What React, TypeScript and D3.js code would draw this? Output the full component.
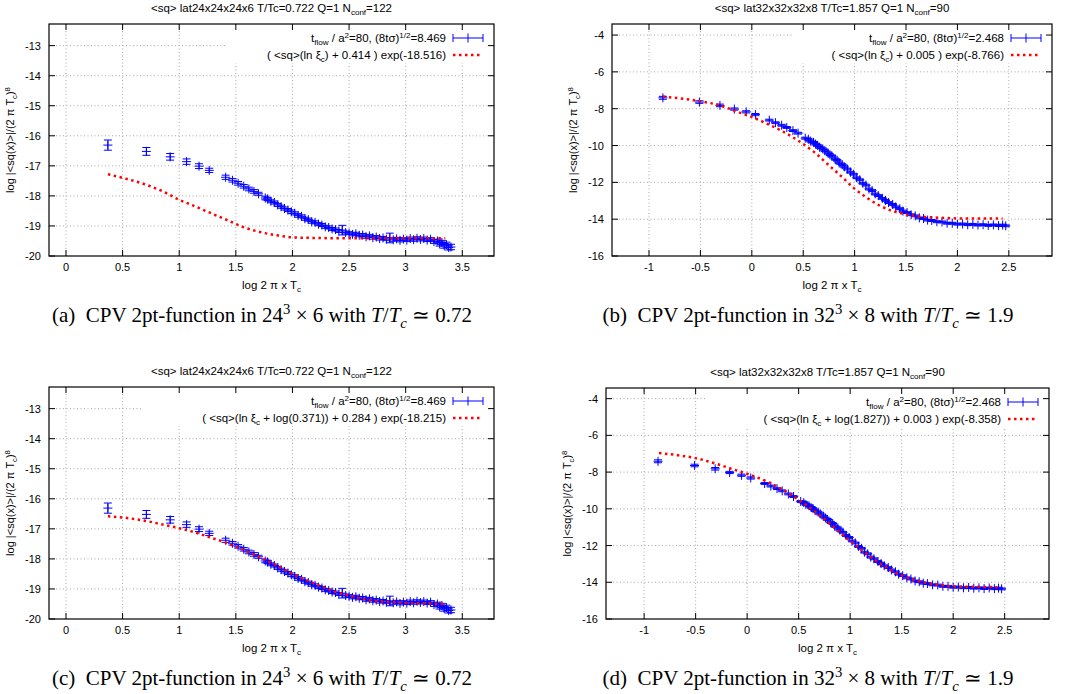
import React, { useRef, useEffect } from "react"
import * as d3 from "d3"

// ---- 24^3 x 6 lattice, T/Tc = 0.722 (panels a and c)
const lowX = [0.37, 0.71, 0.92, 1.065, 1.175, 1.265, 1.41, 1.47, 1.52, 1.57, 1.615, 1.66, 1.70, 1.76, 1.78, 1.81, 1.84, 1.87, 1.90, 1.93, 1.96, 1.99, 2.02, 2.05, 2.08, 2.11, 2.14, 2.17, 2.20, 2.23, 2.26, 2.29, 2.32, 2.35, 2.38, 2.41, 2.44, 2.47, 2.50, 2.53, 2.56, 2.59, 2.62, 2.65, 2.68, 2.71, 2.74, 2.77, 2.80, 2.83, 2.86, 2.89, 2.92, 2.95, 2.98, 3.01, 3.04, 3.07, 3.10, 3.13, 3.16, 3.19, 3.22, 3.25, 3.28, 3.30, 3.32, 3.34, 3.36, 3.38, 3.40]
const lowY = [-16.31, -16.52, -16.70, -16.86, -17.01, -17.15, -17.38, -17.48, -17.58, -17.68, -17.77, -17.85, -17.93, -18.07, -18.10, -18.18, -18.22, -18.30, -18.36, -18.42, -18.47, -18.53, -18.58, -18.65, -18.68, -18.76, -18.79, -18.86, -18.88, -18.94, -18.97, -19.03, -19.05, -19.10, -19.12, -19.17, -19.14, -19.22, -19.24, -19.28, -19.26, -19.31, -19.30, -19.36, -19.33, -19.39, -19.37, -19.42, -19.40, -19.44, -19.40, -19.46, -19.43, -19.48, -19.44, -19.47, -19.42, -19.46, -19.41, -19.45, -19.42, -19.47, -19.44, -19.52, -19.50, -19.60, -19.55, -19.66, -19.62, -19.72, -19.70]
const lowErr = [0.17, 0.13, 0.11, 0.09, 0.08, 0.07, 0.07, 0.06, 0.06, 0.06, 0.06, 0.06, 0.05, 0.06, 0.05, 0.05, 0.05, 0.05, 0.05, 0.05, 0.05, 0.06, 0.05, 0.06, 0.05, 0.05, 0.05, 0.05, 0.05, 0.05, 0.05, 0.05, 0.05, 0.05, 0.05, 0.05, 0.16, 0.05, 0.05, 0.05, 0.05, 0.05, 0.05, 0.05, 0.05, 0.05, 0.05, 0.05, 0.05, 0.05, 0.16, 0.05, 0.05, 0.05, 0.05, 0.05, 0.05, 0.05, 0.05, 0.05, 0.05, 0.05, 0.05, 0.06, 0.06, 0.07, 0.07, 0.08, 0.08, 0.08, 0.09]
const fitAX = [0.37, 0.54, 0.71, 0.86, 1.0, 1.13, 1.27, 1.42, 1.56, 1.71, 1.86, 2.0, 2.2, 2.5, 2.8, 3.1, 3.35]
const fitAY = [-17.28, -17.44, -17.63, -17.86, -18.13, -18.33, -18.56, -18.8, -19.03, -19.2, -19.31, -19.38, -19.4, -19.41, -19.41, -19.41, -19.41]
const fitCX = [0.37, 0.54, 0.71, 0.86, 1.0, 1.13, 1.27, 1.42, 1.56, 1.71, 1.86, 2.0, 2.2, 2.35, 2.5, 2.67, 2.88, 3.08, 3.35]
const fitCY = [-16.58, -16.64, -16.74, -16.86, -16.98, -17.11, -17.28, -17.47, -17.69, -17.94, -18.22, -18.5, -18.83, -19.06, -19.22, -19.37, -19.44, -19.47, -19.5]

// ---- 32^3 x 8 lattice, T/Tc = 1.857 (panels b and d)
const highX = [-0.865, -0.51, -0.31, -0.17, -0.055, 0.035, 0.17, 0.23, 0.29, 0.34, 0.40, 0.45, 0.52, 0.55, 0.57, 0.60, 0.62, 0.64, 0.66, 0.69, 0.71, 0.74, 0.76, 0.78, 0.81, 0.83, 0.85, 0.88, 0.90, 0.93, 0.96, 0.99, 1.02, 1.05, 1.08, 1.11, 1.14, 1.17, 1.20, 1.23, 1.27, 1.30, 1.33, 1.37, 1.40, 1.44, 1.47, 1.51, 1.55, 1.59, 1.63, 1.67, 1.71, 1.75, 1.80, 1.85, 1.90, 1.95, 2.00, 2.05, 2.10, 2.15, 2.20, 2.25, 2.30, 2.35, 2.40, 2.44, 2.47]
const highY = [-7.41, -7.64, -7.82, -8.02, -8.17, -8.32, -8.62, -8.76, -8.90, -9.02, -9.19, -9.33, -9.60, -9.66, -9.76, -9.83, -9.92, -9.99, -10.10, -10.18, -10.28, -10.40, -10.50, -10.58, -10.73, -10.80, -10.95, -11.04, -11.16, -11.28, -11.45, -11.56, -11.75, -11.86, -12.05, -12.15, -12.36, -12.45, -12.63, -12.72, -12.87, -12.98, -13.10, -13.20, -13.33, -13.43, -13.56, -13.64, -13.76, -13.82, -13.93, -13.97, -14.05, -14.07, -14.14, -14.15, -14.22, -14.22, -14.27, -14.26, -14.30, -14.28, -14.32, -14.30, -14.34, -14.31, -14.35, -14.32, -14.36]
const highErr = [0.08, 0.07, 0.07, 0.06, 0.06, 0.06, 0.05, 0.05, 0.05, 0.05, 0.05, 0.05, 0.05, 0.05, 0.05, 0.05, 0.05, 0.05, 0.05, 0.05, 0.05, 0.05, 0.05, 0.05, 0.05, 0.05, 0.05, 0.05, 0.05, 0.05, 0.05, 0.05, 0.05, 0.05, 0.05, 0.05, 0.05, 0.05, 0.05, 0.05, 0.05, 0.05, 0.05, 0.05, 0.05, 0.05, 0.05, 0.05, 0.05, 0.05, 0.05, 0.05, 0.05, 0.05, 0.05, 0.05, 0.05, 0.05, 0.05, 0.05, 0.05, 0.05, 0.05, 0.05, 0.05, 0.05, 0.05, 0.05, 0.05]
const fitBX = [-0.865, -0.51, -0.31, -0.135, 0, 0.18, 0.335, 0.49, 0.62, 0.745, 0.87, 0.99, 1.12, 1.24, 1.37, 1.5, 1.68, 1.87, 2.06, 2.25, 2.44]
const fitBY = [-7.34, -7.59, -7.82, -8.18, -8.45, -8.9, -9.34, -9.88, -10.42, -11.05, -11.67, -12.3, -12.84, -13.25, -13.56, -13.73, -13.88, -13.93, -13.97, -13.97, -13.97]
const fitDX = [-0.856, -0.66, -0.5, -0.3, -0.125, 0.03, 0.19, 0.345, 0.5, 0.66, 0.815, 0.97, 1.13, 1.285, 1.44, 1.6, 1.755, 1.91, 2.07, 2.23, 2.43]
const fitDY = [-6.96, -7.09, -7.24, -7.55, -7.87, -8.15, -8.51, -8.96, -9.51, -10.15, -10.87, -11.6, -12.33, -12.96, -13.47, -13.84, -14.05, -14.18, -14.24, -14.25, -14.27]

const lowXTicks = [0, 0.5, 1, 1.5, 2, 2.5, 3, 3.5]
const lowYTicks = [-20, -19, -18, -17, -16, -15, -14, -13]
const highXTicks = [-1, -0.5, 0, 0.5, 1, 1.5, 2, 2.5]
const highYTicks = [-16, -14, -12, -10, -8, -6, -4]

type Seg = { t: string; sub?: boolean; sup?: boolean; it?: boolean }

const titleLow: Seg[] = [{ t: "<sq> lat24x24x24x6 T/Tc=0.722 Q=1 N" }, { t: "conf", sub: true }, { t: "=122" }]
const titleHigh: Seg[] = [{ t: "<sq> lat32x32x32x8 T/Tc=1.857 Q=1 N" }, { t: "conf", sub: true }, { t: "=90" }]
const dataLow: Seg[] = [{ t: "t" }, { t: "flow", sub: true }, { t: " / a" }, { t: "2", sup: true }, { t: "=80, (8tσ)" }, { t: "1/2", sup: true }, { t: "=8.469" }]
const dataHigh: Seg[] = [{ t: "t" }, { t: "flow", sub: true }, { t: " / a" }, { t: "2", sup: true }, { t: "=80, (8tσ)" }, { t: "1/2", sup: true }, { t: "=2.468" }]
const fitLabelA: Seg[] = [{ t: "( <sq>(ln ξ" }, { t: "c", sub: true }, { t: ") + 0.414 ) exp(-18.516)" }]
const fitLabelB: Seg[] = [{ t: "( <sq>(ln ξ" }, { t: "c", sub: true }, { t: ") + 0.005 ) exp(-8.766)" }]
const fitLabelC: Seg[] = [{ t: "( <sq>(ln ξ" }, { t: "c", sub: true }, { t: " + log(0.371)) + 0.284 ) exp(-18.215)" }]
const fitLabelD: Seg[] = [{ t: "( <sq>(ln ξ" }, { t: "c", sub: true }, { t: " + log(1.827)) + 0.003 ) exp(-8.358)" }]
const yLabel: Seg[] = [{ t: "log |<sq(x)>|/(2 π T" }, { t: "c", sub: true }, { t: ")" }, { t: "8", sup: true }]
const xLabel: Seg[] = [{ t: "log 2 π x T" }, { t: "c", sub: true }]
const capLow = (l: string): Seg[] => [{ t: `(${l})\u2002CPV 2pt-function in 24` }, { t: "3", sup: true }, { t: " × 6 with " }, { t: "T", it: true }, { t: "/" }, { t: "T", it: true }, { t: "c", sub: true, it: true }, { t: " ≃ 0.72" }]
const capHigh = (l: string): Seg[] => [{ t: `(${l})\u2002CPV 2pt-function in 32` }, { t: "3", sup: true }, { t: " × 8 with " }, { t: "T", it: true }, { t: "/" }, { t: "T", it: true }, { t: "c", sub: true, it: true }, { t: " ≃ 1.9" }]

const SANS = "'Liberation Sans', Arial, sans-serif"
const SERIF = "'Liberation Serif', 'Times New Roman', serif"

function rich(text: any, segs: Seg[], size: number) {
  let shift = 0
  segs.forEach(s => {
    const target = s.sub ? size * 0.3 : s.sup ? -size * 0.38 : 0
    const ts = text.append("tspan").attr("dy", target - shift).text(s.t)
    if (s.sub || s.sup) ts.attr("font-size", size * 0.7)
    if (s.it) ts.attr("font-style", "italic")
    shift = target
  })
}

const panels = [
  { left: 49, right: 494, top: 24, bottom: 256, xd: [-0.15, 3.78], yd: [-20, -12.28], xt: lowXTicks, yt: lowYTicks, title: titleLow, dl: dataLow, fl: fitLabelA, px: lowX, py: lowY, pe: lowErr, fx: fitAX, fy: fitAY, keyLeft: 227, cap: capLow("a"), capX: 262, capY: 322 },
  { left: 612, right: 1052, top: 24, bottom: 256, xd: [-1.36, 2.92], yd: [-16, -3.4], xt: highXTicks, yt: highYTicks, title: titleHigh, dl: dataHigh, fl: fitLabelB, px: highX, py: highY, pe: highErr, fx: fitBX, fy: fitBY, keyLeft: 793, cap: capHigh("b"), capX: 808, capY: 322 },
  { left: 49, right: 494, top: 387, bottom: 619, xd: [-0.15, 3.78], yd: [-20, -12.28], xt: lowXTicks, yt: lowYTicks, title: titleLow, dl: dataLow, fl: fitLabelC, px: lowX, py: lowY, pe: lowErr, fx: fitCX, fy: fitCY, keyLeft: 143, cap: capLow("c"), capX: 262, capY: 685 },
  { left: 606, right: 1049, top: 388, bottom: 619, xd: [-1.37, 2.93], yd: [-16, -3.42], xt: highXTicks, yt: highYTicks, title: titleHigh, dl: dataHigh, fl: fitLabelD, px: highX, py: highY, pe: highErr, fx: fitDX, fy: fitDY, keyLeft: 707, cap: capHigh("d"), capX: 808, capY: 685 },
]

function drawPanel(root: any, p: any) {
  const g = root.append("g")
  const x = d3.scaleLinear().domain(p.xd).range([p.left, p.right])
  const y = d3.scaleLinear().domain(p.yd).range([p.bottom, p.top])

  // dotted grid
  const grid = g.append("g").attr("stroke", "#a8a8a8").attr("stroke-width", 1).attr("stroke-dasharray", "1,2.5")
  grid.selectAll("line.v").data(p.xt).join("line")
    .attr("x1", (d: number) => x(d)).attr("x2", (d: number) => x(d))
    .attr("y1", p.bottom).attr("y2", p.top)
  grid.selectAll("line.h").data(p.yt.filter((d: number) => y(d) < p.bottom - 1)).join("line")
    .attr("y1", (d: number) => y(d)).attr("y2", (d: number) => y(d))
    .attr("x1", p.left).attr("x2", p.right)

  // key background hides the grid
  g.append("rect").attr("x", p.keyLeft).attr("y", p.top + 1)
    .attr("width", p.right - 1 - p.keyLeft).attr("height", 38).attr("fill", "white")

  // data with error bars
  const pts = p.px.map((v: number, i: number) => ({ x: v, y: p.py[i], e: p.pe[i] }))
  const blue = g.append("g").attr("stroke", "#0000ff").attr("stroke-width", 1).attr("fill", "none")
  const pg = blue.selectAll("g").data(pts).join("g")
  pg.append("path").attr("d", (d: any) => {
    const cx = x(d.x), cy = y(d.y), y1 = y(d.y - d.e), y2 = y(d.y + d.e)
    return `M${cx},${y1}V${y2}M${cx - 4},${y1}H${cx + 4}M${cx - 4},${y2}H${cx + 4}M${cx - 4.5},${cy}H${cx + 4.5}M${cx},${cy - 4.5}V${cy + 4.5}`
  })

  // fit curve
  const fit = p.fx.map((v: number, i: number) => [v, p.fy[i]])
  const line = d3.line().x((d: any) => x(d[0])).y((d: any) => y(d[1])).curve(d3.curveMonotoneX)
  g.append("path").attr("d", line(fit)).attr("fill", "none").attr("stroke", "#ff0000")
    .attr("stroke-width", 2.5).attr("stroke-dasharray", "2.5,3.5")

  // frame and ticks
  g.append("rect").attr("x", p.left).attr("y", p.top).attr("width", p.right - p.left).attr("height", p.bottom - p.top)
    .attr("fill", "none").attr("stroke", "black").attr("stroke-width", 1.2)
  const ticks = g.append("g").attr("stroke", "black").attr("stroke-width", 1)
  p.xt.forEach((t: number) => {
    ticks.append("line").attr("x1", x(t)).attr("x2", x(t)).attr("y1", p.bottom).attr("y2", p.bottom - 6)
    ticks.append("line").attr("x1", x(t)).attr("x2", x(t)).attr("y1", p.top).attr("y2", p.top + 6)
  })
  p.yt.forEach((t: number) => {
    ticks.append("line").attr("y1", y(t)).attr("y2", y(t)).attr("x1", p.left).attr("x2", p.left + 6)
    ticks.append("line").attr("y1", y(t)).attr("y2", y(t)).attr("x1", p.right).attr("x2", p.right - 6)
  })

  const labels = g.append("g").attr("font-family", SANS).attr("font-size", 11).attr("fill", "#000")
  labels.selectAll("text.xt").data(p.xt).join("text")
    .attr("x", (d: number) => x(d)).attr("y", p.bottom + 15).attr("text-anchor", "middle").text((d: number) => String(d))
  labels.selectAll("text.yt").data(p.yt).join("text")
    .attr("x", p.left - 8).attr("y", (d: number) => y(d) + 4).attr("text-anchor", "end").text((d: number) => String(d))

  // titles
  const fs = 11.5
  rich(g.append("text").attr("font-family", SANS).attr("font-size", fs).attr("text-anchor", "middle")
    .attr("x", (p.left + p.right) / 2).attr("y", p.top - 12), p.title, fs)
  rich(g.append("text").attr("font-family", SANS).attr("font-size", fs).attr("text-anchor", "middle")
    .attr("x", (p.left + p.right) / 2).attr("y", p.bottom + 33), xLabel, fs)
  const ly = (p.top + p.bottom) / 2, lx = p.left - 35
  rich(g.append("text").attr("font-family", SANS).attr("font-size", 11).attr("text-anchor", "middle")
    .attr("transform", `translate(${lx},${ly}) rotate(-90)`), yLabel, 11)

  // key
  const kx = p.right - 48, k1 = p.top + 14, k2 = p.top + 31
  rich(g.append("text").attr("font-family", SANS).attr("font-size", fs).attr("text-anchor", "end")
    .attr("x", kx).attr("y", k1 + 4), p.dl, fs)
  rich(g.append("text").attr("font-family", SANS).attr("font-size", fs).attr("text-anchor", "end")
    .attr("x", kx).attr("y", k2 + 4), p.fl, fs)
  const s1 = p.right - 41, s2 = p.right - 11, sm = (s1 + s2) / 2
  g.append("path").attr("stroke", "#0000ff").attr("fill", "none")
    .attr("d", `M${s1},${k1}H${s2}M${s1},${k1 - 4}V${k1 + 4}M${s2},${k1 - 4}V${k1 + 4}M${sm},${k1 - 4.5}V${k1 + 4.5}`)
  g.append("line").attr("x1", s1).attr("x2", s2).attr("y1", k2).attr("y2", k2)
    .attr("stroke", "#ff0000").attr("stroke-width", 2.5).attr("stroke-dasharray", "2.5,3.5")

  // caption
  rich(g.append("text").attr("font-family", SERIF).attr("font-size", 21).attr("text-anchor", "middle")
    .attr("x", p.capX).attr("y", p.capY), p.cap, 21)
}

export default function App() {
  const svgRef = useRef<SVGSVGElement>(null)

  useEffect(() => {
    const svg = d3.select(svgRef.current)
    svg.selectAll("*").remove()
    svg.append("rect").attr("width", 1081).attr("height", 694).attr("fill", "white")
    panels.forEach(p => drawPanel(svg, p))
  }, [])

  return (
    <svg ref={svgRef} width={1081} height={694} style={{ position: "absolute", left: 0, top: 0 }} />
  )
}
